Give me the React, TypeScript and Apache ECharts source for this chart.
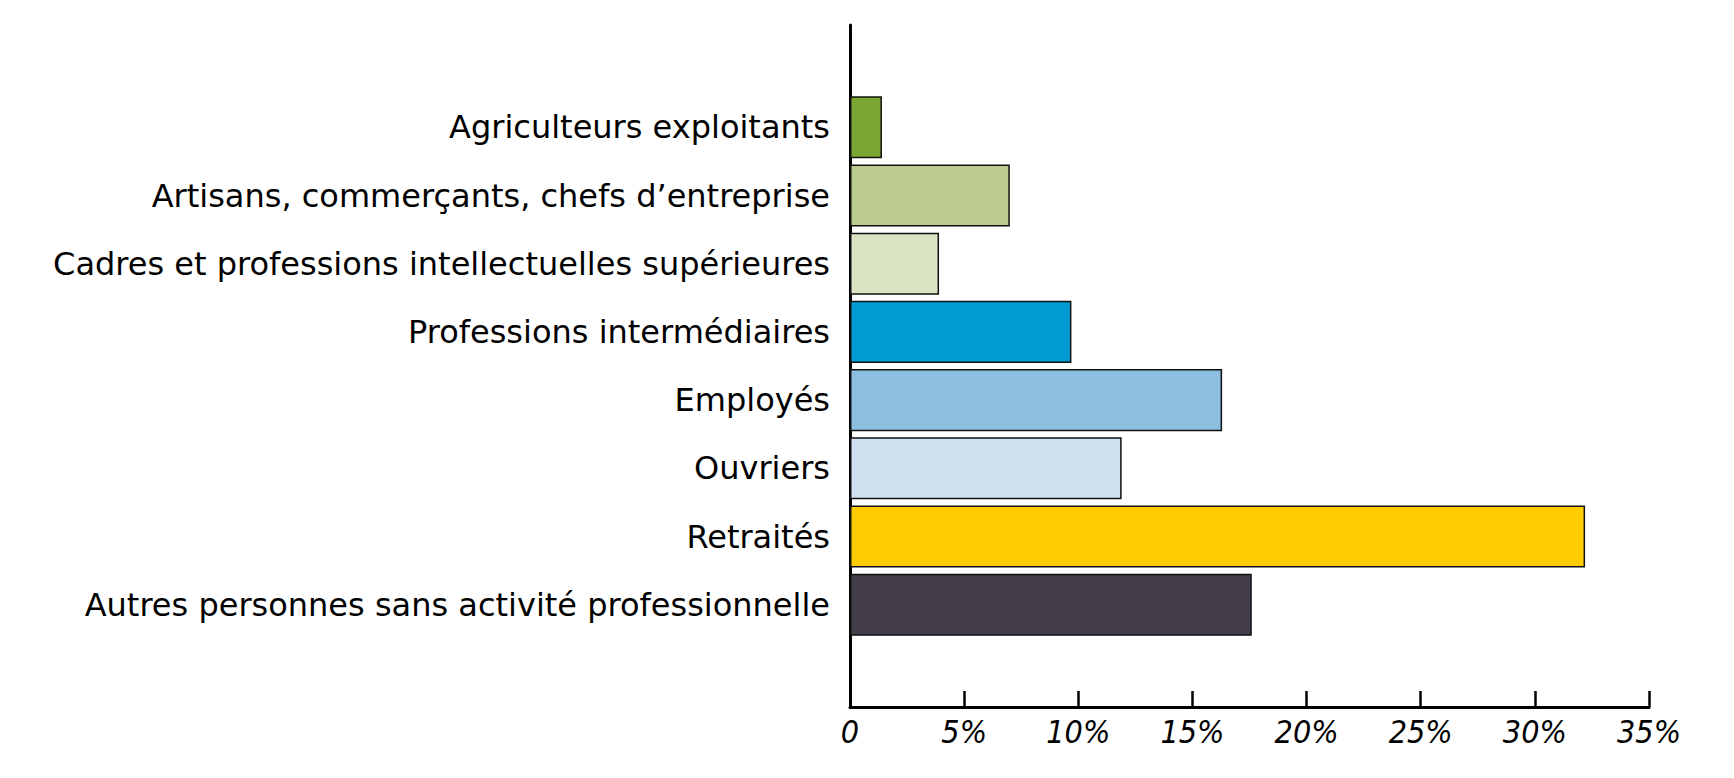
import React, { useEffect, useRef } from "react";
import * as echarts from "echarts";

const categories = [
  "Agriculteurs exploitants",
  "Artisans, commerçants, chefs d’entreprise",
  "Cadres et professions intellectuelles supérieures",
  "Professions intermédiaires",
  "Employés",
  "Ouvriers",
  "Retraités",
  "Autres personnes sans activité professionnelle",
];
const values = [1.4, 7.0, 3.9, 9.7, 16.3, 11.9, 32.2, 17.6];
const colors = ["#7ba632", "#bbcb8d", "#d9e4c3", "#009bd0", "#8bbee0", "#cfe1f1", "#ffcc00", "#433d4b"];
const xTicks = [0, 5, 10, 15, 20, 25, 30, 35];

export default function App() {
  const ref = useRef<HTMLDivElement>(null);
  useEffect(() => {
    document.body.style.margin = "0";
    if (!ref.current) return;
    const chart = echarts.init(ref.current, null, { renderer: "svg" });
    const axisCats = ["", ...categories, ""];
    const data: any[] = [null, ...values.map((v, i) => ({ value: v, itemStyle: { color: colors[i] } })), null];
    chart.setOption({
      animation: false,
      backgroundColor: "#ffffff",
      grid: { left: 850, right: 85, top: 25, bottom: 71, containLabel: false },
      xAxis: {
        type: "value",
        min: xTicks[0],
        max: xTicks[xTicks.length - 1],
        interval: 5,
        axisLine: { show: true, lineStyle: { color: "#000", width: 3 } },
        axisTick: { show: true, inside: true, length: 16, lineStyle: { color: "#000", width: 2.5 } },
        splitLine: { show: false },
        axisLabel: {
          color: "#000",
          fontSize: 32,
          fontStyle: "italic",
          fontFamily: "DejaVu Sans Condensed",
          margin: 9,
          formatter: (v: number) => (v === 0 ? "0" : v + "%"),
        },
      },
      yAxis: {
        type: "category",
        inverse: true,
        data: axisCats,
        axisLine: { show: true, lineStyle: { color: "#000", width: 3 } },
        axisTick: { show: false },
        axisLabel: {
          color: "#000",
          fontSize: 32,
          fontFamily: "DejaVu Sans",
          margin: 20,
          interval: 0,
        },
      },
      series: [
        {
          type: "bar",
          data,
          barCategoryGap: "9%",
          itemStyle: { borderColor: "#111", borderWidth: 1.5 },
        },
      ],
    });
    return () => chart.dispose();
  }, []);
  return <div ref={ref} style={{ width: 1734, height: 778 }} />;
}
